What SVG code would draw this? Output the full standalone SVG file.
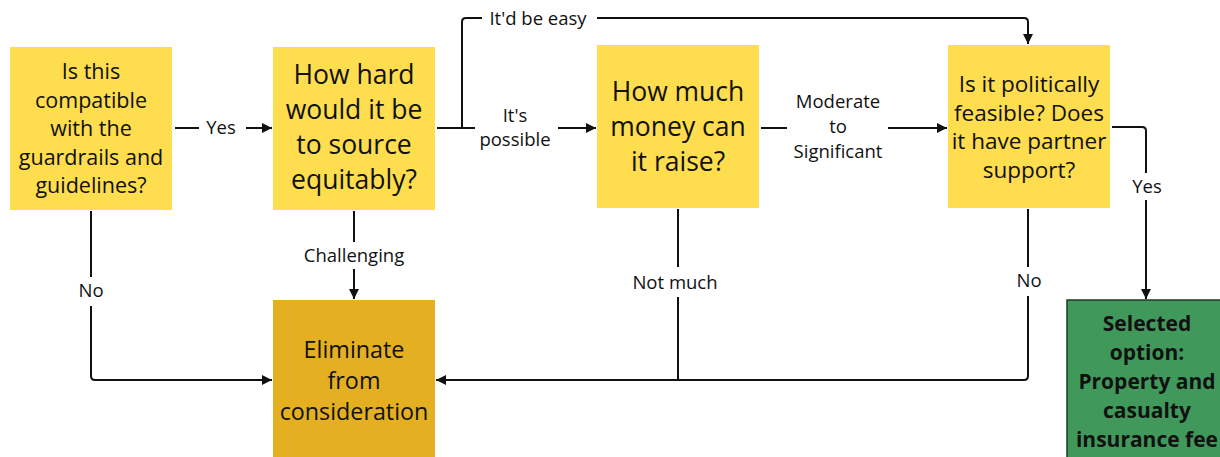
<svg xmlns="http://www.w3.org/2000/svg" width="1220" height="457" viewBox="0 0 1220 457">
<defs>
<style>
.q{fill:#FEDD4E}
.elim{fill:#E4B021}
.sel{fill:#40995A;stroke:#1D3B25;stroke-width:1.5}
text{font-family:"Open Sans","Liberation Sans",sans-serif;fill:#111;text-anchor:middle}
.t22{font-size:21.5px}
.t22b{font-size:22.5px}
.t26{font-size:26.5px}
.t24{font-size:23.3px}
.tb{font-size:21px;font-weight:bold}
.lbl{font-size:18.5px}
.c{fill:none;stroke:#111;stroke-width:2;stroke-linejoin:round}
</style>
<marker id="ah" viewBox="0 0 10 10" refX="10" refY="5" markerWidth="5" markerHeight="5" orient="auto-start-reverse" markerUnits="strokeWidth">
<path d="M0,0 L10,5 L0,10 z" fill="#111"/>
</marker>
</defs>
<rect width="1220" height="457" fill="#fff"/>

<g id="connectors">
<path class="c" d="M175,128 H199"/>
<path class="c" d="M246,128 H272" marker-end="url(#ah)"/>
<text class="lbl" x="221" y="134">Yes</text>

<path class="c" d="M437,128 H475"/>
<path class="c" d="M462,128 V22 Q462,18 466,18 H482"/>
<text class="lbl" x="538" y="25">It'd be easy</text>
<path class="c" d="M597,18 H1024 Q1028,18 1028,22 V44" marker-end="url(#ah)"/>
<text class="lbl" x="515" y="122">It's</text>
<text class="lbl" x="515" y="146">possible</text>
<path class="c" d="M558,128 H596" marker-end="url(#ah)"/>

<path class="c" d="M761,128 H787"/>
<text class="lbl" x="838" y="108">Moderate</text>
<text class="lbl" x="838" y="133">to</text>
<text class="lbl" x="838" y="158">Significant</text>
<path class="c" d="M888,128 H947" marker-end="url(#ah)"/>

<path class="c" d="M1112,127 H1142 Q1146,127 1146,131 V173"/>
<text class="lbl" x="1147" y="193">Yes</text>
<path class="c" d="M1146,200 V299" marker-end="url(#ah)"/>

<path class="c" d="M91,211 V277"/>
<text class="lbl" x="91" y="297">No</text>
<path class="c" d="M91,306 V376 Q91,380 95,380 H272" marker-end="url(#ah)"/>

<path class="c" d="M354,211 V242"/>
<text class="lbl" x="354" y="262">Challenging</text>
<path class="c" d="M354,269 V299" marker-end="url(#ah)"/>

<path class="c" d="M678,209 V267"/>
<text class="lbl" x="675" y="289">Not much</text>
<path class="c" d="M678,297 V380"/>

<path class="c" d="M1028,209 V267"/>
<text class="lbl" x="1029" y="287">No</text>
<path class="c" d="M1028,296 V376 Q1028,380 1024,380 H436" marker-end="url(#ah)"/>
</g>

<g id="q1">
<rect class="q" x="10" y="47" width="162" height="163"/>
<text class="t22" x="91" y="79">Is this</text>
<text class="t22" x="91" y="107.5">compatible</text>
<text class="t22" x="91" y="136">with the</text>
<text class="t22" x="91" y="164.5">guardrails and</text>
<text class="t22" x="91" y="193">guidelines?</text>
</g>

<g id="q2">
<rect class="q" x="273" y="47" width="162" height="163"/>
<text class="t26" x="354" y="84">How hard</text>
<text class="t26" x="354" y="119">would it be</text>
<text class="t26" x="354" y="154">to source</text>
<text class="t26" x="354" y="189">equitably?</text>
</g>

<g id="q3">
<rect class="q" x="597" y="45" width="162" height="163"/>
<text class="t26" x="678" y="101">How much</text>
<text class="t26" x="678" y="136">money can</text>
<text class="t26" x="678" y="171">it raise?</text>
</g>

<g id="q4">
<rect class="q" x="948" y="45" width="162" height="163"/>
<text class="t22b" x="1029" y="92">Is it politically</text>
<text class="t22b" x="1029" y="120.5">feasible? Does</text>
<text class="t22b" x="1029" y="149">it have partner</text>
<text class="t22b" x="1029" y="177.5">support?</text>
</g>

<g id="eliminate">
<rect class="elim" x="273" y="300" width="162" height="160"/>
<text class="t24" x="354" y="358">Eliminate</text>
<text class="t24" x="354" y="389">from</text>
<text class="t24" x="354" y="420">consideration</text>
</g>

<g id="selected">
<rect class="sel" x="1067" y="300" width="160" height="162"/>
<text class="tb" x="1147" y="331">Selected</text>
<text class="tb" x="1147" y="360">option:</text>
<text class="tb" x="1147" y="389">Property and</text>
<text class="tb" x="1147" y="418">casualty</text>
<text class="tb" x="1147" y="447">insurance fee</text>
</g>
</svg>
